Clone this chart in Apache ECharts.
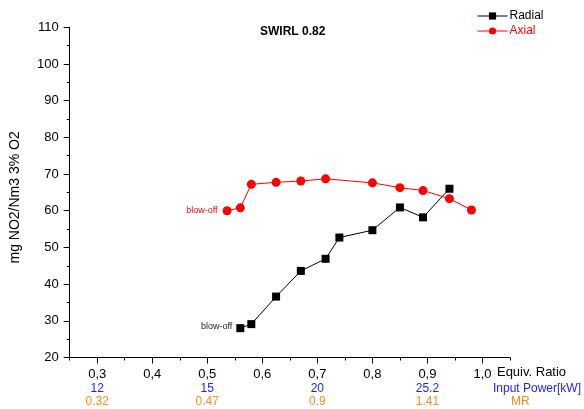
<!DOCTYPE html>
<html>
<head>
<meta charset="utf-8">
<script src="https://cdn.jsdelivr.net/npm/echarts@6/dist/echarts.min.js"></script>
<style>
  html, body { margin: 0; padding: 0; background: #fff; }
  #chart { width: 584px; height: 409px; }
</style>
</head>
<body>
<div id="chart"></div>
<script>
// Equivalence ratio (x) and NO2 emission (y) for both injection modes
const radialX = [0.56, 0.58, 0.625, 0.67, 0.715, 0.74, 0.80, 0.85, 0.892, 0.94];
const radialY = [28.0, 29.1, 36.6, 43.6, 46.9, 52.7, 54.7, 60.9, 58.2, 66.0];
const axialX = [0.536, 0.56, 0.58, 0.625, 0.67, 0.715, 0.80, 0.85, 0.892, 0.94, 0.98];
const axialY = [60.0, 60.8, 67.2, 67.75, 68.1, 68.7, 67.6, 66.3, 65.5, 63.3, 60.2];

// Axis ticks
const ratioTicks = [0.3, 0.4, 0.5, 0.6, 0.7, 0.8, 0.9, 1.0];
const ratioMinorTicks = [0.25, 0.35, 0.45, 0.55, 0.65, 0.75, 0.85, 0.95, 1.05];
// Secondary scales shown under selected equivalence ratios
const secondaryTicks = [0.3, 0.5, 0.7, 0.9];
const powerLabels = ['12', '15', '20', '25.2'];
const mrLabels = ['0.32', '0.47', '0.9', '1.41'];

const FONT = 'Liberation Sans, Arial, Helvetica, sans-serif';
const AXIS_COLOR = '#000';

function pick(labels, v) {
  const i = secondaryTicks.findIndex(t => Math.abs(t - v) < 1e-6);
  return i >= 0 ? labels[i] : '';
}
function toPairs(xs, ys) { return xs.map((x, i) => [x, ys[i]]); }

const radialData = toPairs(radialX, radialY);
radialData[0] = {
  value: radialData[0],
  label: { show: true, position: 'left', distance: 4, offset: [0, -2], formatter: 'blow-off',
           fontSize: 9, color: '#222', fontFamily: FONT }
};
const axialData = toPairs(axialX, axialY);
axialData[0] = {
  value: axialData[0],
  label: { show: true, position: 'left', distance: 5, formatter: 'blow-off',
           fontSize: 9, color: '#ff0000', fontFamily: FONT }
};

const baseX = { type: 'value', min: 0.25, max: 1.05, gridIndex: 0, position: 'bottom',
                splitLine: { show: false } };

const chart = echarts.init(document.getElementById('chart'), null, { renderer: 'canvas' });
chart.setOption({
  animation: false,
  backgroundColor: '#fff',
  textStyle: { fontFamily: FONT },
  title: {
    text: 'SWIRL 0.82', left: 255, top: 21,
    textStyle: { fontSize: 12, fontWeight: 'bold', color: '#000', fontFamily: FONT }
  },
  legend: {
    orient: 'vertical', left: 477, top: 10, padding: 0,
    itemWidth: 30, itemHeight: 9, itemGap: 3,
    lineStyle: { width: 1 },
    textStyle: { fontSize: 12, fontFamily: FONT, padding: [0, 0, 0, -3] },
    data: [
      { name: 'Radial', textStyle: { color: '#000' } },
      { name: 'Axial', textStyle: { color: '#ff0000' } }
    ]
  },
  grid: { left: 62.7, right: 71.7, top: 27.3, bottom: 51.5 },
  xAxis: [
    Object.assign({}, baseX, {
      axisLine: { show: true, lineStyle: { color: AXIS_COLOR, width: 1 } },
      axisTick: { show: true, length: 6, customValues: ratioTicks, lineStyle: { color: AXIS_COLOR } },
      axisLabel: { show: true, customValues: ratioTicks, margin: 10, fontSize: 13, color: '#000',
                   fontFamily: FONT, formatter: v => v.toFixed(1).replace('.', ',') }
    }),
    Object.assign({}, baseX, {
      axisLine: { show: false },
      axisTick: { show: true, length: 3, customValues: ratioMinorTicks, lineStyle: { color: AXIS_COLOR } },
      axisLabel: { show: false }
    }),
    // carries the "Equiv. Ratio" title on the label row
    Object.assign({}, baseX, {
      offset: 15.2,
      name: 'Equiv. Ratio', nameLocation: 'end', nameGap: -13,
      nameTextStyle: { fontSize: 13, color: '#000', fontFamily: FONT },
      axisLine: { show: false }, axisTick: { show: false }, axisLabel: { show: false }
    }),
    Object.assign({}, baseX, {
      offset: 31.5,
      name: 'Input Power[kW]', nameLocation: 'end', nameGap: -17,
      nameTextStyle: { fontSize: 12, color: '#2222ff', fontFamily: FONT },
      axisLine: { show: false }, axisTick: { show: false },
      axisLabel: { show: true, customValues: secondaryTicks, margin: 0, verticalAlign: 'middle',
                   fontSize: 12, color: '#2222ff', fontFamily: FONT,
                   formatter: v => pick(powerLabels, v) }
    }),
    Object.assign({}, baseX, {
      offset: 44.2,
      name: 'MR', nameLocation: 'end', nameGap: 1,
      nameTextStyle: { fontSize: 12, color: '#ff8a24', fontFamily: FONT },
      axisLine: { show: false }, axisTick: { show: false },
      axisLabel: { show: true, customValues: secondaryTicks, margin: 0, verticalAlign: 'middle',
                   fontSize: 12, color: '#ff8a24', fontFamily: FONT,
                   formatter: v => pick(mrLabels, v) }
    })
  ],
  yAxis: {
    type: 'value', min: 20, max: 110, interval: 10,
    name: 'mg NO2/Nm3 3% O2', nameLocation: 'middle', nameGap: 47.7,
    nameTextStyle: { fontSize: 14, color: '#000', fontFamily: FONT, padding: [0, 10, 0, 0] },
    axisLine: { show: true, lineStyle: { color: AXIS_COLOR, width: 1 } },
    axisTick: { show: true, length: 6, lineStyle: { color: AXIS_COLOR } },
    minorTick: { show: true, splitNumber: 2, length: 3, lineStyle: { color: AXIS_COLOR } },
    axisLabel: { margin: 11, fontSize: 13, color: '#000', fontFamily: FONT },
    splitLine: { show: false }
  },
  series: [
    {
      name: 'Radial', type: 'line', xAxisIndex: 0, data: radialData,
      symbol: 'rect', symbolSize: 8, color: '#000',
      lineStyle: { color: '#000', width: 1 },
      itemStyle: { color: '#000' }
    },
    {
      name: 'Axial', type: 'line', xAxisIndex: 0, data: axialData,
      symbol: 'circle', symbolSize: 9, color: '#ff0000',
      lineStyle: { color: '#ff0000', width: 1 },
      itemStyle: { color: '#ff0000' }
    }
  ]
});
</script>
</body>
</html>
